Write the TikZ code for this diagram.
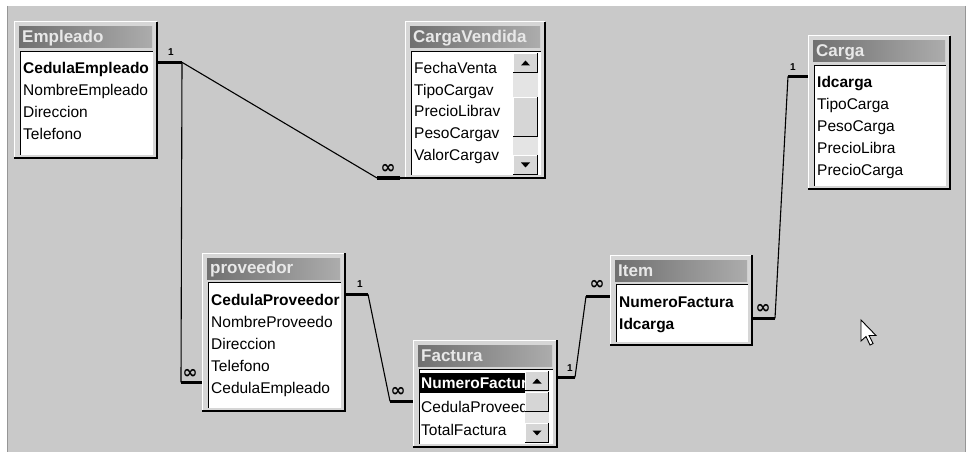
\documentclass[tikz,border=0pt]{standalone}
\usepackage{fontspec}
\setmainfont{Liberation Sans}
\newfontfamily\symfont{DejaVu Sans}
\usetikzlibrary{calc}

\definecolor{desk}{RGB}{201,201,201}
\definecolor{framegray}{RGB}{214,214,214}
\definecolor{capL}{RGB}{112,112,112}
\definecolor{capR}{RGB}{172,172,172}
\definecolor{captext}{RGB}{232,232,232}
\definecolor{sbtrack}{RGB}{228,228,228}
\definecolor{edgegray}{RGB}{150,150,150}

\tikzset{
  tframe/.style={fill=framegray, inner sep=0pt, outer sep=0pt},
  ttitle/.style={inner sep=0pt, text=captext, font=\bfseries\fontsize{17}{17}\selectfont},
  trow/.style={inner sep=0pt, text height=11pt, text depth=3pt, font=\fontsize{15.5}{16}\selectfont},
  pkrow/.style={trow, font=\bfseries\fontsize{15.5}{16}\selectfont},
  selrow/.style={pkrow, text=white},
  rel/.style={line width=1.1pt},
  stub/.style={line width=3.4pt},
  one/.style={inner sep=0pt, font=\bfseries\fontsize{10}{10}\selectfont},
  many/.style={inner sep=0pt, font=\symfont\bfseries\fontsize{18}{18}\selectfont}
}

% table window: name, x1, y1, x2, y2, caption
\newcommand\dbframe[6]{%
  \node[tframe, anchor=north west,
        minimum width={(#4-#2)*1pt}, minimum height={(#5-#3)*1pt}] (#1) at (#2,#3) {};
  \draw[white, line width=1pt] (#1.south west) -- (#1.north west) -- (#1.north east);
  \draw[line width=1.6pt] (#1.north east) -- (#1.south east) -- (#1.south west);
  \shade[left color=capL, right color=capR]
    ($(#1.north west)+(5,5)$) rectangle ($(#1.north east)+(-5,26)$);
  \node[ttitle, anchor=west] (#1-title) at ($(#1.north west)+(8,16)$) {#6};
  \fill[white] ($(#1.north west)+(6,29)$) rectangle ($(#1.south east)+(-4,-3)$);
  \draw[line width=1.4pt] ($(#1.south west)+(6.5,-3)$) -- ($(#1.north west)+(6.5,29.5)$)
    -- ($(#1.north east)+(-4,29.5)$);
}
% field line: name, x, y of text centre, style, text
\newcommand\dbrow[5]{%
  \node[#4, anchor=base west] (#1) at (#2,#3+5.5) {#5};
}
% raised scroll button
\newcommand\sbbutton[4]{%
  \fill[framegray] (#1,#2) rectangle (#3,#4);
  \draw[white, line width=1pt] (#1+0.5,#4) -- (#1+0.5,#2+0.5) -- (#3,#2+0.5);
  \draw[line width=1.2pt] (#1,#4-0.6) -- (#3-0.6,#4-0.6) -- (#3-0.6,#2);
}
% vertical scroll bar: x1, y1, x2, y2
\newcommand\vscroll[4]{%
  \pgfmathsetmacro\sbcx{(#1+#3)/2}%
  \pgfmathsetmacro\sbua{#2+20}%
  \pgfmathsetmacro\sbdb{#4-20}%
  \pgfmathsetmacro\sbuc{#2+10}%
  \pgfmathsetmacro\sbdc{#4-10}%
  \fill[sbtrack] (#1,#2) rectangle (#3,#4);
  \sbbutton{#1}{#2}{#3}{\sbua}
  \sbbutton{#1}{\sbdb}{#3}{#4}
  \fill (\sbcx-4.5,\sbuc+2.5) -- ++(9,0) -- ++(-4.5,-5) -- cycle;
  \fill (\sbcx-4.5,\sbdc-2.5) -- ++(9,0) -- ++(-4.5,5) -- cycle;
}

\begin{document}
\begin{tikzpicture}[x=1pt, y=-1pt]
\useasboundingbox (0,0) rectangle (969,457);
\fill[white] (0,0) rectangle (969,457);
\fill[desk] (7,6) rectangle (965,452);
\draw[edgegray, line width=1pt] (7.5,6) -- (7.5,452);
\draw[edgegray, line width=0.8pt] (965,6) -- (965,452);

% ---------- Empleado ----------
\dbframe{emp}{14}{22}{157}{158}{Empleado}
\dbrow{eCed}{23}{68}{pkrow}{CedulaEmpleado}
\dbrow{eNom}{23}{90}{trow}{NombreEmpleado}
\dbrow{eDir}{23}{112}{trow}{Direccion}
\dbrow{eTel}{23}{134}{trow}{Telefono}

% ---------- CargaVendida ----------
\dbframe{cv}{405}{22}{545}{178}{CargaVendida}
\begin{scope}
  \clip (411,52) rectangle (513,175);
  \dbrow{vFec}{414}{68}{trow}{FechaVenta}
  \dbrow{vTip}{414}{90}{trow}{TipoCargav}
  \dbrow{vPre}{414}{111}{trow}{PrecioLibrav}
  \dbrow{vPes}{414}{133}{trow}{PesoCargav}
  \dbrow{vVal}{414}{155}{trow}{ValorCargav}
\end{scope}
\vscroll{513}{53}{538}{175}
\sbbutton{513}{97}{538}{137}

% ---------- Carga ----------
\dbframe{car}{808}{36}{950}{189}{Carga}
\dbrow{cId}{817}{82}{pkrow}{Idcarga}
\dbrow{cTip}{817}{104}{trow}{TipoCarga}
\dbrow{cPes}{817}{126}{trow}{PesoCarga}
\dbrow{cPL}{817}{148}{trow}{PrecioLibra}
\dbrow{cPC}{817}{170}{trow}{PrecioCarga}

% ---------- proveedor ----------
\dbframe{prov}{202}{253}{345}{411}{proveedor}
\dbrow{pCed}{211}{300}{pkrow}{CedulaProveedor}
\dbrow{pNom}{211}{322}{trow}{NombreProveedo}
\dbrow{pDir}{211}{344}{trow}{Direccion}
\dbrow{pTel}{211}{366}{trow}{Telefono}
\dbrow{pEmp}{211}{388}{trow}{CedulaEmpleado}

% ---------- Factura ----------
\dbframe{fac}{413}{340}{557}{447}{Factura}
\begin{scope}
  \clip (420,371) rectangle (525,444);
  \fill (420,373) rectangle (525,393);
  \dbrow{fNum}{421}{383}{selrow}{NumeroFactura}
  \dbrow{fCed}{421}{407}{trow}{CedulaProveedor}
  \dbrow{fTot}{421}{430}{trow}{TotalFactura}
\end{scope}
\vscroll{525}{371}{549}{443}
\sbbutton{525}{392}{549}{412}

% ---------- Item ----------
\dbframe{item}{610}{255}{752}{345}{Item}
\dbrow{iNum}{619}{302}{pkrow}{NumeroFactura}
\dbrow{iId}{619}{324}{pkrow}{Idcarga}

% ---------- relationships ----------
% Empleado.CedulaEmpleado -> proveedor.CedulaEmpleado and CargaVendida
\coordinate (kEmp)  at ($(emp.east |- eCed.north)+(25,0)$);
\coordinate (kProv) at ($(prov.west |- pEmp.north)+(-21,0)$);
\coordinate (kCV)   at ($(cv.south west)+(-28,0)$);
\draw[stub] (emp.east |- eCed.north) -- (kEmp);
\draw[rel] (kEmp) -- (kProv);
\draw[stub] (kProv) -- (prov.west |- pEmp.north);
\draw[rel] (kEmp) -- (kCV);
\draw[stub] (kCV) -- ($(cv.south west)+(-5,0)$);
\draw[rel] ($(cv.south west)+(-5,0)$) -- (cv.south west);
\node[one]  at ($(kEmp)+(-11,-10)$) {1};
\node[many] at ($(kProv)+(9,-8)$) {∞};
\node[many] at ($(kCV)+(11,-9)$) {∞};

% proveedor.CedulaProveedor -> Factura.CedulaProveedor
\coordinate (kP1) at ($(prov.east |- pCed.north)+(23,0)$);
\coordinate (kF1) at ($(fac.west |- fCed.north)+(-23,0)$);
\draw[stub] (prov.east |- pCed.north) -- (kP1);
\draw[rel] (kP1) -- (kF1);
\draw[stub] (kF1) -- (fac.west |- fCed.north);
\node[one]  at ($(kP1)+(-8,-10)$) {1};
\node[many] at ($(kF1)+(8,-9)$) {∞};

% Factura.NumeroFactura -> Item.NumeroFactura
\coordinate (kF2) at ($(fac.east |- fNum.north)+(18,0)$);
\coordinate (kI1) at ($(item.west |- iNum.north)+(-24,0)$);
\draw[stub] (fac.east |- fNum.north) -- (kF2);
\draw[rel] (kF2) -- (kI1);
\draw[stub] (kI1) -- (item.west |- iNum.north);
\node[one]  at ($(kF2)+(-5,-9)$) {1};
\node[many] at ($(kI1)+(11,-11)$) {∞};

% Item.Idcarga -> Carga.Idcarga
\coordinate (kI2) at ($(item.east |- iId.north)+(23,0)$);
\coordinate (kC)  at ($(car.west |- cId.north)+(-20,0)$);
\draw[stub] (item.east |- iId.north) -- (kI2);
\draw[rel] (kI2) -- (kC);
\draw[stub] (kC) -- (car.west |- cId.north);
\node[one]  at ($(kC)+(5,-9)$) {1};
\node[many] at ($(kI2)+(-12,-9)$) {∞};

% mouse pointer
\draw[fill=white, line width=0.9pt, line join=miter]
  (861,320) -- ++(0,21) -- ++(5,-4.5) -- ++(4,8.5) -- ++(3,-1.5) -- ++(-4,-8) -- ++(7,0) -- cycle;
\end{tikzpicture}
\end{document}
